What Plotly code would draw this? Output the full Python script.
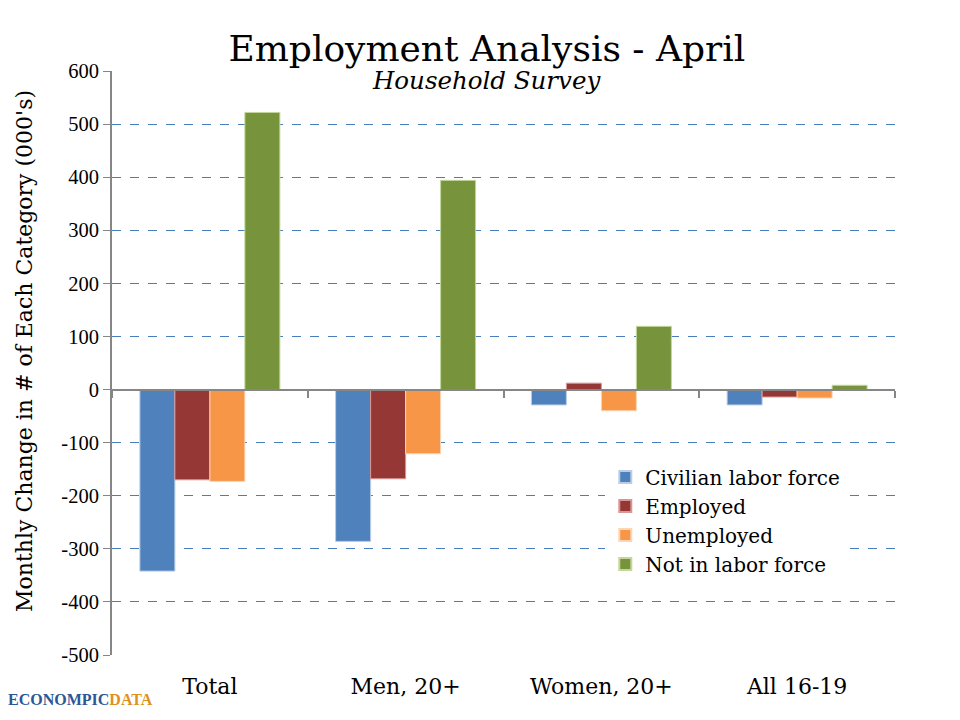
import plotly.graph_objects as go

categories = ["Total", "Men, 20+", "Women, 20+", "All 16-19"]
series_names = ["Civilian labor force", "Employed", "Unemployed", "Not in labor force"]
civilian = [-342, -286, -29, -29]
employed = [-170, -168, 12, -14]
unemployed = [-173, -121, -40, -16]
not_in_lf = [522, 394, 119, 8]
y_ticks = [600, 500, 400, 300, 200, 100, 0, -100, -200, -300, -400, -500]
y_tick_text = [str(v) for v in y_ticks]

colors = ["#4f81bd", "#953735", "#f79646", "#77933c"]
edges = ["#b9cde5", "#d99694", "#fcd5b5", "#c3d69b"]
values = [civilian, employed, unemployed, not_in_lf]

SERIF = "Liberation Serif"
WIDE = "DejaVu Serif"
fig = go.Figure()
for name, vals, c, e in zip(series_names, values, colors, edges):
    fig.add_trace(go.Bar(x=categories, y=vals, name=name,
                         marker=dict(color=c, line=dict(color=e, width=1))))

# invisible trace to carry the zero-line category axis
fig.add_trace(go.Scatter(x=categories, y=[0] * len(categories), xaxis="x2",
                         mode="lines", line=dict(width=0), showlegend=False,
                         hoverinfo="skip"))

ymin, ymax = -500, 600
fig.update_layout(
    width=952, height=712,
    paper_bgcolor="white", plot_bgcolor="white",
    margin=dict(l=104, r=65, t=63, b=65),
    barmode="group", bargap=0.285, bargroupgap=0,
    font=dict(family=SERIF, color="black"),
    title=dict(text="Employment Analysis - April", x=0.503, xanchor="center",
               y=0.9435, yanchor="middle", font=dict(size=36, family=WIDE)),
    xaxis=dict(type="category", categoryorder="array", categoryarray=categories,
               showline=False, ticks="", showgrid=False, automargin=False,
               ticklabelstandoff=16,
               tickfont=dict(size=22, family=WIDE), range=[-0.5, 3.5]),
    xaxis2=dict(type="category", categoryorder="array", categoryarray=categories,
                overlaying="x", anchor="free",
                position=(0 - ymin) / (ymax - ymin),
                showline=True, linecolor="#868686", linewidth=2,
                ticks="outside", tickson="boundaries", ticklen=7,
                tickcolor="#868686", tickwidth=1.5,
                showticklabels=False, showgrid=False, range=[-0.5, 3.5]),
    yaxis=dict(range=[ymin, ymax], tickvals=y_ticks, ticktext=y_tick_text,
               showline=True, automargin=False,
               linecolor="#868686", linewidth=2, ticks="outside", ticklen=7,
               tickcolor="#868686",
               showgrid=True, gridcolor="#4a7ebb", griddash="dash", gridwidth=1,
               zeroline=False,
               tickfont=dict(size=20.5, family=SERIF)),
    legend=dict(x=0.63, y=0.338, xanchor="left", yanchor="top",
                bgcolor="white", font=dict(size=20, family=WIDE),
                tracegroupgap=0, itemsizing="constant"),
    annotations=[
        dict(text="<i>Household Survey</i>", xref="paper", yref="paper",
             x=0.5, y=1.0, yshift=-9, xanchor="center", yanchor="middle",
             xshift=-17, showarrow=False, font=dict(size=24.5, family=WIDE)),
        dict(text="Monthly Change in # of Each Category (000's)",
             xref="paper", yref="paper", x=-0.1124, y=0.5205, textangle=-90,
             xanchor="center", yanchor="middle", showarrow=False,
             font=dict(size=22, family=WIDE)),
        dict(text="<b><span style='color:#2b5797'>ECONOMPIC</span><span style='color:#e0901f'>DATA</span></b>",
             xref="paper", yref="paper", x=-0.136, y=-0.077, xanchor="left",
             yanchor="middle", showarrow=False, font=dict(size=16, family=SERIF)),
    ],
)
fig.write_html("out.html")
